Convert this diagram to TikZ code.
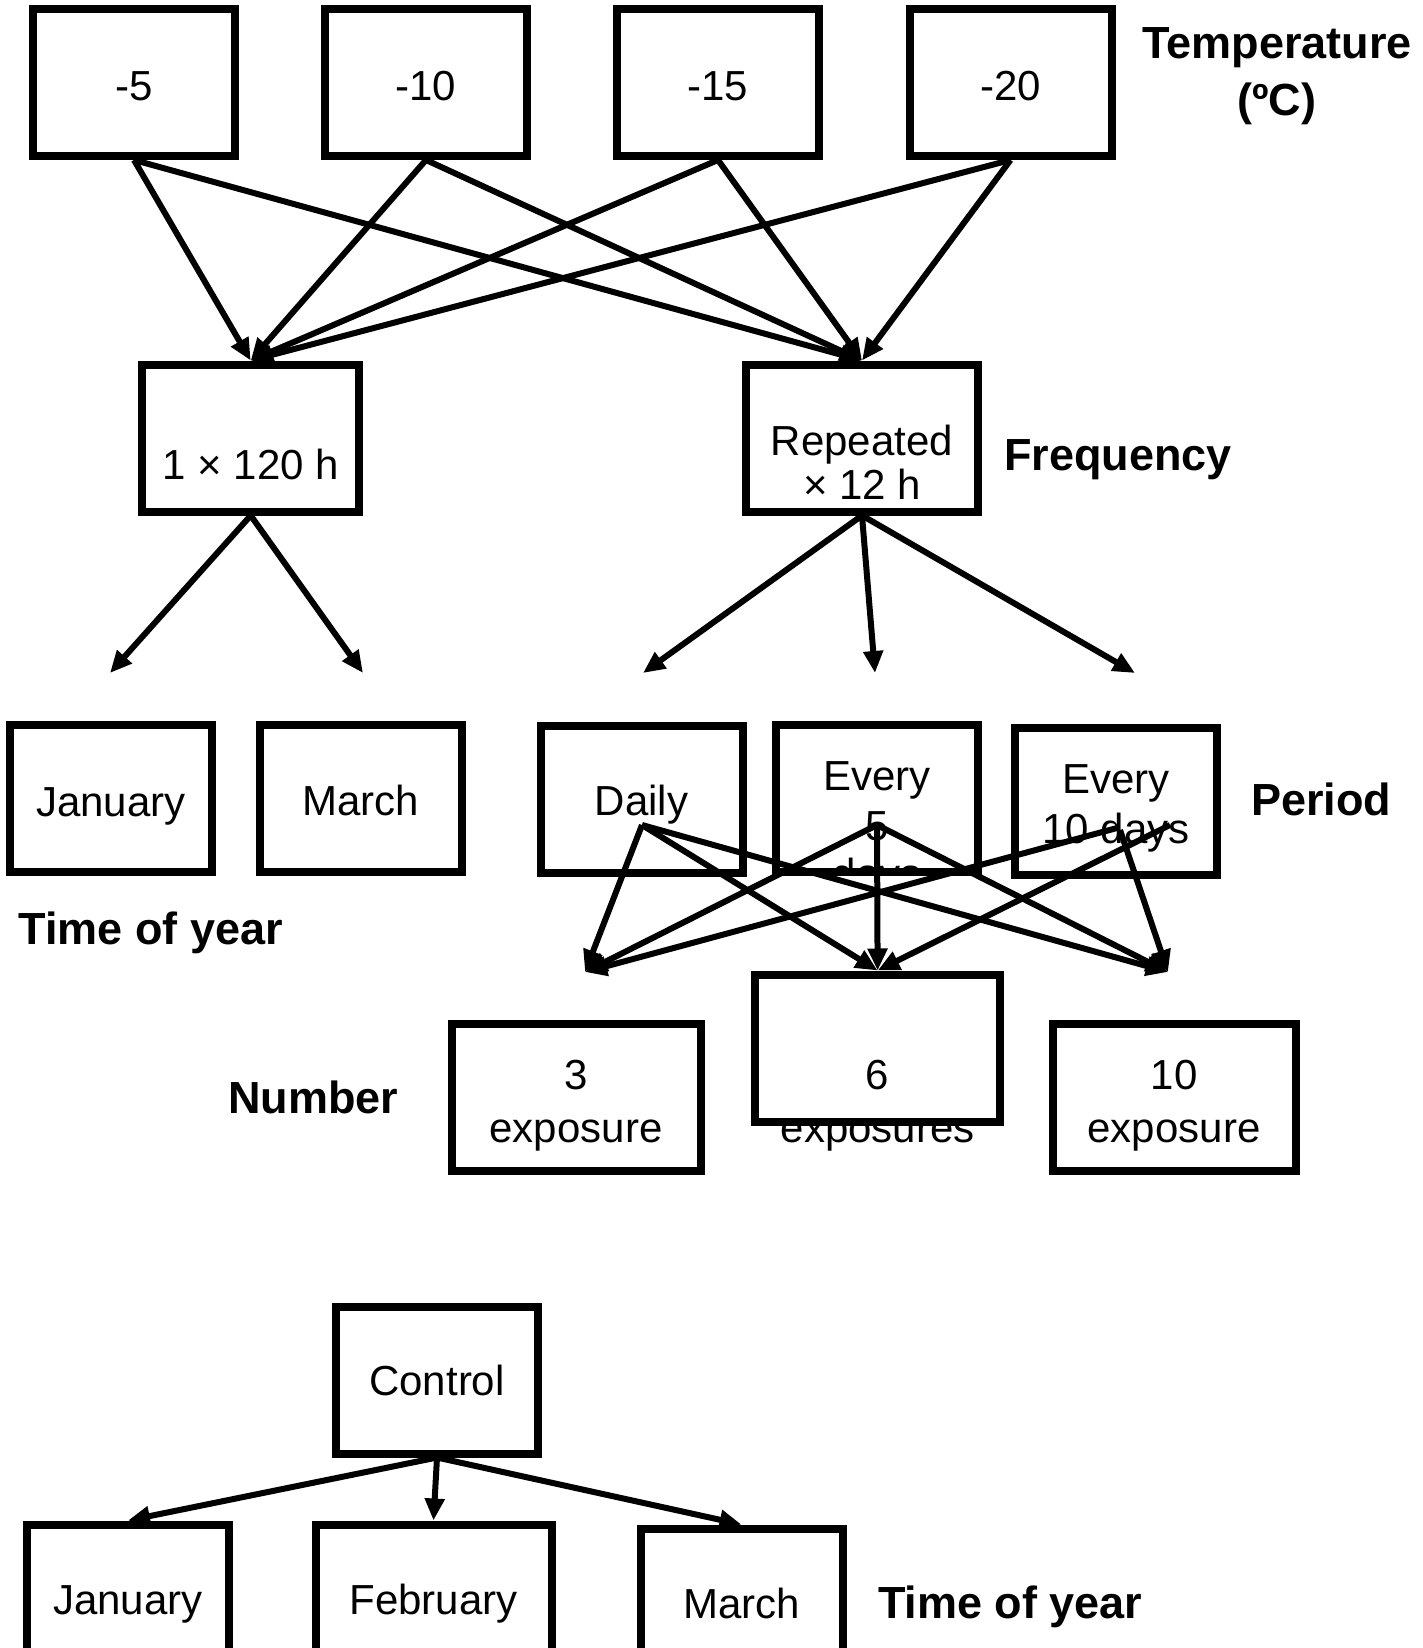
\documentclass[tikz,border=0pt]{standalone}
\usepackage{fontspec}
\setmainfont{Liberation Sans}
\usetikzlibrary{arrows.meta,positioning,calc}

\begin{document}
\begin{tikzpicture}[x=0.5pt,y=-0.5pt,
    box/.style={draw,line width=4pt,minimum width=101pt,minimum height=73.5pt,
      inner sep=0pt,text height=16.5pt,text depth=0pt,font=\fontsize{21}{25}\selectfont},
    txt/.style={font=\fontsize{21}{25}\selectfont,anchor=base,inner sep=0pt},
    lbl/.style={font=\fontsize{22.5}{28.5}\selectfont\bfseries,inner sep=0pt},
    >={Triangle[length=11pt,width=9.5pt]},
    link/.style={->,line width=3pt}]
    \useasboundingbox (0,0) rectangle (1423,1648);

    % temperature
    \node[box,text height=18pt] (t5) at (134,82.5) {-5};
    \node[box,text height=18pt] (t10) at (426,82.5) {-10};
    \node[box,text height=18pt] (t15) at (718,82.5) {-15};
    \node[box,text height=18pt] (t20) at (1010.5,82.5) {-20};
    \node[lbl,align=center] (temp) at (1277,76) {Temperature\\(ºC)};

    % frequency
    \node[box,minimum width=108.5pt] (once) at (250.7,438) {};
    \node[txt] (once-t) at (250.7,479) {1 × 120 h};
    \node[box,minimum width=115.8pt] (rep) at (862,438) {};
    \node[txt] (rep-a) at (862,455) {Repeated};
    \node[txt] (rep-b) at (862,499.5) {× 12 h};
    \node[lbl,anchor=base west] (freq) at (1004,470) {Frequency};

    \foreach \s in {t5,t10,t15,t20} {
        \draw[link] (\s.south) -- (once.north);
        \draw[link] (\s.south) -- (rep.north);
    }

    % time of year and period
    \node[box,text height=18pt] (jan1) at (111,798) {January};
    \node[box,text height=17.4pt] (mar1) at (361,798) {March};
    \node[lbl,anchor=base west] (tyear1) at (18,944) {Time of year};
    \node[box] (daily) at (641.5,799) {Daily};
    \node[box] (ev5) at (877,798) {};
    \node[box] (ev10) at (1116,801) {};
    \begin{scope}
        \clip (ev5.south west) rectangle (ev5.north east);
        \node[txt] (ev5-a) at (877,790) {Every};
        \node[txt] (ev5-b) at (877,840) {5};
        \node[txt] (ev5-c) at (877,888) {days};
    \end{scope}
    \node[txt] (ev10-a) at (1116,793) {Every};
    \node[txt] (ev10-b) at (1116,843) {10 days};
    \node[lbl,anchor=base west] (period) at (1251,815) {Period};

    \coordinate (jan1-in) at (110,673);
    \coordinate (mar1-in) at (363,673);
    \coordinate (daily-in) at (643,673);
    \coordinate (ev5-in) at (875,673);
    \coordinate (ev10-in) at (1135,673);
    \draw[link] (once.south) -- (jan1-in);
    \draw[link] (once.south) -- (mar1-in);
    \draw[link] (rep.south) -- (daily-in);
    \draw[link] (rep.south) -- (ev5-in);
    \draw[link] (rep.south) -- (ev10-in);

    % number
    \node[box,minimum width=124.5pt] (n3) at (576,1097) {};
    \node[box,minimum width=122.5pt] (n6) at (877.6,1048) {};
    \node[box,minimum width=121.5pt] (n10) at (1174,1097) {};
    \begin{scope}
        \clip (n3.south west) rectangle (n3.north east);
        \node[txt] (n3-a) at (576,1089) {3};
        \node[txt] (n3-b) at (576,1142) {exposure};
        \node[txt] (n3-c) at (576,1194) {s};
    \end{scope}
    \node[txt] (n6-a) at (877.6,1089) {6};
    \node[txt] (n6-b) at (877.6,1142) {exposures};
    \begin{scope}
        \clip (n10.south west) rectangle (n10.north east);
        \node[txt] (n10-a) at (1174,1089) {10};
        \node[txt] (n10-b) at (1174,1142) {exposure};
        \node[txt] (n10-c) at (1174,1194) {s};
    \end{scope}
    \node[lbl,anchor=base west] (number) at (228,1113) {Number};

    \coordinate (daily-out) at (642,825);
    \coordinate (ev5-out) at (877,825);
    \coordinate (ev10-out) at (1120,830);
    \coordinate (ev10-outa) at (1117,828);
    \coordinate (ev10-outb) at (1170,825);
    \coordinate (n3-in) at (585,972);
    \coordinate (n10-in) at (1168,972);
    \draw[link] (daily-out) -- (n3-in);
    \draw[link] (daily-out) -- (n6.north);
    \draw[link] (daily-out) -- (n10-in);
    \draw[link] (ev5-out) -- (n3-in);
    \draw[link] (ev5-out) -- (n6.north);
    \draw[link] (ev5-out) -- (n10-in);
    \draw[link] (ev10-outa) -- (n3-in);
    \draw[link] (ev10-outb) -- (n6.north);
    \draw[link] (ev10-out) -- (n10-in);

    % control
    \node[box,text height=15.3pt] (ctrl) at (437,1380) {Control};
    \node[box,text height=16.2pt] (jan2) at (128,1598) {January};
    \node[box,minimum width=118pt,text height=16.2pt] (feb2) at (433.5,1598) {February};
    \node[box,text height=16pt] (mar2) at (741.5,1602) {March};
    \node[lbl,anchor=base west] (tyear2) at (877.6,1618) {Time of year};
    \draw[link] (ctrl.south) -- (jan2.north);
    \draw[link] (ctrl.south) -- (feb2.north);
    \draw[link] (ctrl.south) -- (mar2.north);
\end{tikzpicture}
\end{document}
